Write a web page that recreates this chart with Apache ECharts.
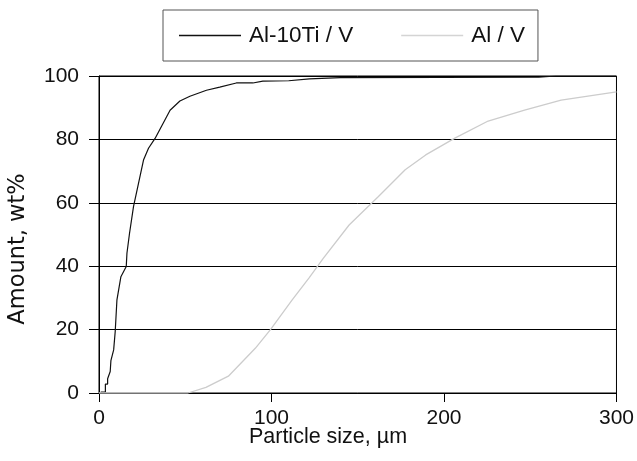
<!DOCTYPE html>
<html>
<head>
<meta charset="utf-8">
<script src="https://cdn.jsdelivr.net/npm/echarts@6/dist/echarts.min.js"></script>
<style>html,body{margin:0;padding:0;background:#fff}#c{width:637px;height:461px}</style>
</head>
<body>
<div id="c"></div>
<script>
const seriesNames = ['Al-10Ti / V', 'Al / V'];
const alTiX = [1, 3.7, 3.7, 5, 5, 6, 6.5, 6.9, 8.5, 9.4, 10.4, 12.7, 15.8, 16.2, 17.7, 20, 22.9, 25.8, 28.7, 32.5, 41.2, 46.9, 52.7, 62.3, 70, 79.6, 89.2, 95, 110, 122, 140, 255, 265, 300];
const alTiY = [0.3, 0.3, 2.8, 2.8, 4.5, 4.7, 6.8, 10.2, 13.6, 19.4, 29.4, 36.7, 39.9, 44.1, 50.4, 58.8, 66.1, 73.5, 77.2, 80.3, 89.2, 92.1, 93.6, 95.5, 96.5, 97.8, 97.8, 98.4, 98.5, 99.1, 99.5, 99.6, 100, 100];
const alX = [0, 51.6, 62, 75, 90.6, 99.4, 112, 121.9, 130, 145, 162, 177.5, 189.4, 206.3, 225.6, 246.7, 267.9, 300];
const alY = [0, 0, 1.8, 5.3, 14.1, 20, 29.4, 36.4, 42.5, 53, 62, 70.4, 75.1, 80.4, 85.8, 89.2, 92.4, 95];
const xTicks = [0, 100, 200, 300];
const yTicks = [0, 20, 40, 60, 80, 100];
const xTitle = 'Particle size, µm';
const yTitle = 'Amount, wt%';

const pairs = (xs, ys) => xs.map((x, i) => [x, ys[i]]);
const FONT = '"Liberation Sans", Arial, Helvetica, sans-serif';
const chart = echarts.init(document.getElementById('c'), null, {renderer: 'canvas'});
chart.setOption({
  animation: false,
  backgroundColor: '#fff',
  textStyle: {fontFamily: FONT},
  grid: {left: 99, right: 19, top: 76, bottom: 68, show: true, borderColor: '#000', borderWidth: 1, backgroundColor: 'transparent'},
  legend: {
    left: 163, top: 10,
    padding: [14, 13, 14, 16],
    borderColor: '#555', borderWidth: 1,
    itemWidth: 62, itemHeight: 1.3, itemGap: 48,
    icon: 'rect',
    textStyle: {fontSize: 22.5, color: '#111', fontFamily: FONT, padding: [0, 0, 0, 3]},
    data: seriesNames
  },
  xAxis: {
    type: 'value', min: xTicks[0], max: xTicks[xTicks.length - 1], interval: 100,
    axisLine: {show: true, lineStyle: {color: '#000', width: 1}},
    axisTick: {show: true, length: 9, lineStyle: {color: '#000'}},
    splitLine: {show: false},
    axisLabel: {fontSize: 21, color: '#111', margin: 15, fontFamily: FONT}
  },
  yAxis: {
    type: 'value', min: yTicks[0], max: yTicks[yTicks.length - 1], interval: 20,
    axisLine: {show: true, lineStyle: {color: '#000', width: 1}},
    axisTick: {show: true, length: 10, lineStyle: {color: '#000'}},
    splitLine: {show: true, lineStyle: {color: '#000', width: 1}},
    axisLabel: {fontSize: 21, color: '#111', margin: 20, fontFamily: FONT}
  },
  graphic: [
    {type: 'text', x: 328, y: 437, style: {text: xTitle, font: '21.5px ' + FONT, fill: '#111', textAlign: 'center', textVerticalAlign: 'middle'}},
    {type: 'text', x: 18, y: 249, rotation: Math.PI / 2, style: {text: yTitle, font: '22.5px "DejaVu Sans", sans-serif', fill: '#111', textAlign: 'center', textVerticalAlign: 'middle'}}
  ],
  series: [
    {name: seriesNames[0], type: 'line', symbol: 'none', data: pairs(alTiX, alTiY), lineStyle: {color: '#111', width: 1.2}, itemStyle: {color: '#111'}},
    {name: seriesNames[1], type: 'line', symbol: 'none', data: pairs(alX, alY), lineStyle: {color: '#cccccc', width: 1.3}, itemStyle: {color: '#d4d4d4'}}
  ]
});
</script>
</body>
</html>
